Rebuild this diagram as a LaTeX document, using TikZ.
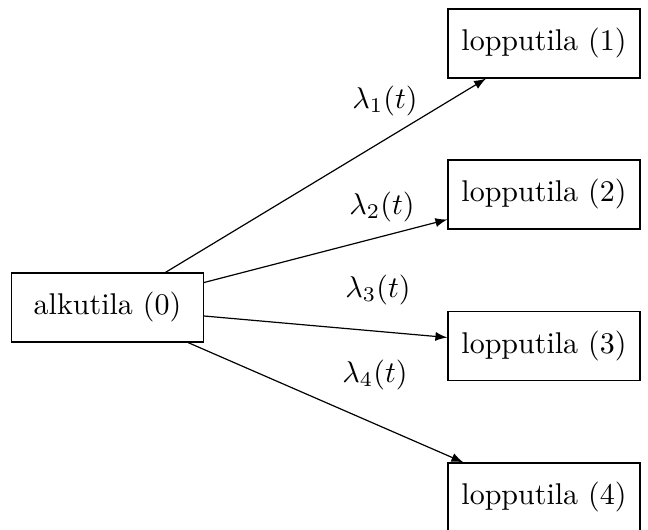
\documentclass[tikz,border=0pt]{standalone}
\usetikzlibrary{arrows}
\begin{document}
\begin{tikzpicture}[x=0.33333pt,y=-0.33333pt,
  statebox/.style={draw, minimum width=64pt, minimum height=23pt, inner sep=0pt},
  lab/.style={inner sep=0pt},
  conn/.style={-latex}]
\useasboundingbox (0,0) rectangle (648,530);
\node[statebox] (a) at (107.5,307.5) {alkutila (0)};
\node[statebox] (b1) at (544,43.5) {lopputila (1)};
\node[statebox] (b2) at (544,194.5) {lopputila (2)};
\node[statebox] (b3) at (544,346) {lopputila (3)};
\node[statebox] (b4) at (544,497.5) {lopputila (4)};
\draw[conn] (a) -- (b1);
\draw[conn] (a) -- (b2);
\draw[conn] (a) -- (b3);
\draw[conn] (a) -- (b4);
\node[lab] (l1) at (385,101) {$\lambda_1(t)$};
\node[lab] (l2) at (382,207) {$\lambda_2(t)$};
\node[lab] (l3) at (378,290) {$\lambda_3(t)$};
\node[lab] (l4) at (375,375) {$\lambda_4(t)$};
\end{tikzpicture}
\end{document}
